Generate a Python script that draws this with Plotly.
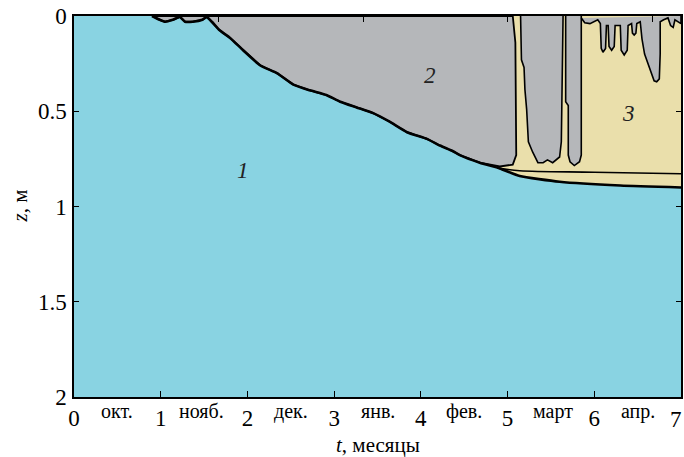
import plotly.graph_objects as go

# ---------------- data ----------------
months = ["окт.", "нояб.", "дек.", "янв.", "фев.", "март", "апр."]
month_pos = [0.5, 1.47, 2.5, 3.5, 4.5, 5.52, 6.5]
x_ticks = [0, 1, 2, 3, 4, 5, 6, 7]
y_ticks = [0, 0.5, 1, 1.5, 2]
top_ticks = [5 / 3, 10 / 3, 5, 20 / 3]

# lower boundary of ice / snow-ice (water surface below it)
bottom_t = [0.9, 0.99, 1.05, 1.14, 1.22, 1.28, 1.37, 1.48, 1.53, 1.59, 1.68, 1.80,
            1.95, 2.15, 2.34, 2.53, 2.72, 2.91, 3.07, 3.26, 3.45, 3.64, 3.84, 4.07,
            4.22, 4.37, 4.45, 4.68, 4.91, 5.14, 5.6, 6.3, 7.0]
bottom_z = [0.0, 0.02, 0.03, 0.02, 0.005, 0.03, 0.03, 0.02, 0.005, 0.03, 0.075, 0.115,
            0.18, 0.26, 0.30, 0.36, 0.39, 0.415, 0.45, 0.48, 0.51, 0.555, 0.61, 0.645,
            0.68, 0.71, 0.73, 0.77, 0.80, 0.84, 0.87, 0.89, 0.90]

# upper snow-ice line
upper_t = [4.91, 5.14, 6.0, 7.0]
upper_z = [0.80, 0.812, 0.82, 0.828]

# right edge of the main ice block
block_edge_t = [5.06, 5.09, 5.10, 5.06, 4.91]
block_edge_z = [0.0, 0.14, 0.73, 0.78, 0.79]

# ice strips after the block
strip2_t = [5.15, 5.16, 5.19, 5.20, 5.22, 5.24, 5.29, 5.35, 5.41, 5.46, 5.52, 5.60, 5.62, 5.64]
strip2_z = [0.0, 0.23, 0.27, 0.385, 0.49, 0.66, 0.715, 0.77, 0.77, 0.755, 0.77, 0.74, 0.66, 0.0]

strip3_t = [5.67, 5.67, 5.70, 5.70, 5.72, 5.77, 5.83, 5.85, 5.85]
strip3_z = [0.0, 0.45, 0.47, 0.73, 0.765, 0.785, 0.765, 0.73, 0.0]

# top crust with icicles
crust_t = [5.85, 5.89, 5.95, 5.99, 6.04, 6.07, 6.08, 6.10, 6.13, 6.14, 6.16, 6.17, 6.20,
           6.23, 6.24, 6.30, 6.31, 6.345, 6.38, 6.39, 6.43, 6.44, 6.46, 6.48, 6.49,
           6.53, 6.55, 6.58, 6.62, 6.66, 6.69, 6.72, 6.75, 6.76, 6.76, 6.80, 6.85,
           6.88, 6.91, 6.93, 6.97, 7.0, 7.0]
crust_z = [0.01, 0.035, 0.04, 0.03, 0.02, 0.04, 0.17, 0.19, 0.17, 0.05, 0.05, 0.16, 0.18,
           0.16, 0.05, 0.05, 0.18, 0.205, 0.18, 0.05, 0.04, 0.09, 0.10, 0.09, 0.04,
           0.03, 0.12, 0.20, 0.25, 0.30, 0.34, 0.345, 0.33, 0.20, 0.03, 0.02, 0.01,
           0.05, 0.06, 0.02, 0.03, 0.04, 0.0]

labels = ["1", "2", "3"]
label_t = [1.95, 4.11, 6.40]
label_z = [0.81, 0.31, 0.51]

# ---------------- styling ----------------
WATER = "#89D3E2"
ICE = "#B5B7BA"
SNOW = "#EADFAB"
FONT = "Liberation Serif"

fig = go.Figure()

# snow-ice (yellow) region
i0 = [i for i, t in enumerate(bottom_t) if t >= 4.68]
snow_t = [bottom_t[i] for i in i0] + [7.0, 4.68]
snow_z = [bottom_z[i] for i in i0] + [0.0, 0.0]
fig.add_trace(go.Scatter(x=snow_t, y=snow_z, fill="toself", fillcolor=SNOW,
                         mode="lines", line=dict(width=0), hoverinfo="skip"))

# main ice block
j0 = [i for i, t in enumerate(bottom_t) if t <= 4.68]
blk_t = [bottom_t[0], block_edge_t[0]] + block_edge_t + [bottom_t[i] for i in reversed(j0)]
blk_z = [0.0, 0.0] + block_edge_z + [bottom_z[i] for i in reversed(j0)]
fig.add_trace(go.Scatter(x=blk_t, y=blk_z, fill="toself", fillcolor=ICE, mode="lines",
                         line=dict(color="black", width=1.8), hoverinfo="skip"))

for st, sz in [(strip2_t, strip2_z), (strip3_t, strip3_z), (crust_t, crust_z)]:
    fig.add_trace(go.Scatter(x=st, y=sz, fill="toself", fillcolor=ICE, mode="lines",
                             line=dict(color="black", width=1.6), hoverinfo="skip"))

# boundary lines
fig.add_trace(go.Scatter(x=bottom_t, y=bottom_z, mode="lines",
                         line=dict(color="black", width=2.6, shape="spline", smoothing=0.5),
                         hoverinfo="skip"))
fig.add_trace(go.Scatter(x=upper_t, y=upper_z, mode="lines",
                         line=dict(color="black", width=1.6, shape="spline"),
                         hoverinfo="skip"))

# top axis ticks
fig.add_trace(go.Scatter(x=[0, 7], y=[0, 0], xaxis="x2", mode="lines",
                         line=dict(width=0), hoverinfo="skip"))

for lab, lt, lz in zip(labels, label_t, label_z):
    fig.add_annotation(x=lt, y=lz, text=f"<i>{lab}</i>", showarrow=False,
                       font=dict(family=FONT, size=23, color="#222"))

for m, mp in zip(months, month_pos):
    fig.add_annotation(x=mp, y=0, xref="x", yref="paper", text=m, showarrow=False,
                       yanchor="middle", yshift=-14,
                       font=dict(family=FONT, size=20, color="black"))

# last tick label (sits on the right edge of the picture)
fig.add_annotation(x=x_ticks[-1], y=0, xref="x", yref="paper", text=str(x_ticks[-1]),
                   showarrow=False, yanchor="top", xanchor="right", yshift=-8, xshift=3,
                   font=dict(family=FONT, size=23, color="black"))

fig.add_annotation(x=0.5, y=0, xref="paper", yref="paper",
                   text="<i>t</i>, месяцы", showarrow=False, yanchor="middle", yshift=-48,
                   font=dict(family=FONT, size=21, color="black"))
fig.add_annotation(x=0, y=0.5, xref="paper", yref="paper",
                   text="<i>z</i>, м", showarrow=False, textangle=-90,
                   xanchor="center", xshift=-55,
                   font=dict(family=FONT, size=21, color="black"))

fig.update_layout(
    width=684, height=457,
    margin=dict(l=74, r=3, t=16, b=60, autoexpand=False),
    paper_bgcolor="white", plot_bgcolor=WATER,
    showlegend=False,
    font=dict(family=FONT, size=22, color="black"),
    xaxis=dict(range=[0, 7], tickvals=x_ticks[:-1], ticktext=[str(v) for v in x_ticks[:-1]],
               ticks="inside", ticklen=6, tickcolor="black", showgrid=False,
               zeroline=False, showline=True, linecolor="black", linewidth=1.5,
               mirror=True, tickfont=dict(family=FONT, size=23), ticklabelstandoff=0,
               automargin=False),
    xaxis2=dict(range=[0, 7], overlaying="x", side="top", tickvals=top_ticks,
                ticks="inside", ticklen=6, tickcolor="black", showticklabels=False,
                showgrid=False, zeroline=False, showline=False, automargin=False),
    yaxis=dict(range=[2, 0], tickvals=y_ticks, ticktext=["0", "0.5", "1", "1.5", "2"],
               ticks="inside", ticklen=5, tickcolor="black", showgrid=False,
               zeroline=False, showline=True, linecolor="black", linewidth=1.5,
               mirror="ticks", tickfont=dict(family=FONT, size=23), ticklabelstandoff=1,
               automargin=False),
)

fig.write_html("out.html", config={"displayModeBar": False},
               post_script="document.body.style.margin='0px';"
                           "document.body.style.overflow='hidden';")
